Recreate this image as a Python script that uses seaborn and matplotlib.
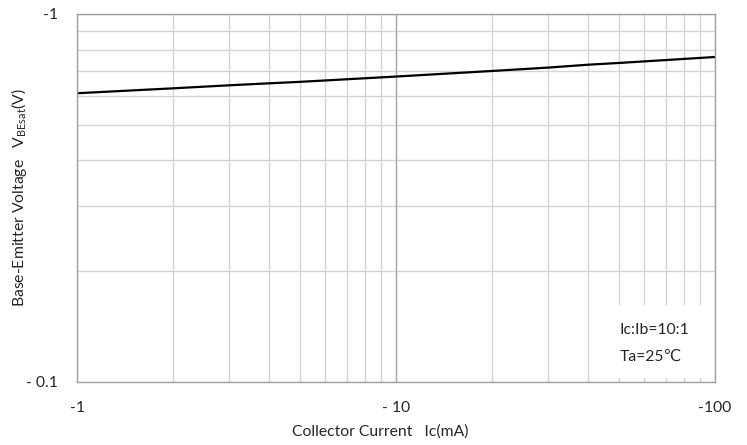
import numpy as np
import pandas as pd
import matplotlib
matplotlib.use('Agg')
import matplotlib.pyplot as plt
import seaborn as sns
from matplotlib.patches import Rectangle
from matplotlib.ticker import FixedLocator, NullFormatter

# data (Ic in mA, VBEsat in V, magnitudes)
ic_ma = [1, 2, 3, 4, 5, 10, 20, 30, 40, 50, 100]
vbe_sat = [0.609, 0.628, 0.640, 0.648, 0.654, 0.676, 0.700, 0.715, 0.728, 0.736, 0.764]

x_ticks = [1, 10, 100]
x_labels = ['-1', '- 10', '-100']
y_ticks = [0.1, 1]
y_labels = ['- 0.1', '-1']

df = pd.DataFrame({'ic': ic_ma, 'vbe': vbe_sat})

sns.set_style('white')
plt.rcParams['font.family'] = ['Lato', 'DejaVu Sans']

fig = plt.figure(figsize=(7.47, 4.45), dpi=100)
ax = fig.add_axes([0.1031, 0.1416, 0.854, 0.827])

sns.lineplot(data=df, x='ic', y='vbe', color='black', linewidth=1.6, ax=ax)

ax.set_xscale('log')
ax.set_yscale('log')
ax.set_xlim(1, 100)
ax.set_ylim(0.1, 1)

ax.xaxis.set_major_locator(FixedLocator(x_ticks))
ax.set_xticklabels(x_labels)
ax.yaxis.set_major_locator(FixedLocator(y_ticks))
ax.set_yticklabels(y_labels)
ax.xaxis.set_minor_formatter(NullFormatter())
ax.yaxis.set_minor_formatter(NullFormatter())

ax.grid(True, which='both', color='#d4d4d4', linewidth=1.0)
ax.axvline(10, color='#a8a8a8', linewidth=1.0, zorder=1)
ax.tick_params(which='both', length=0)
ax.tick_params(axis='x', pad=14, labelsize=11.3)
ax.tick_params(axis='y', pad=14, labelsize=11.3)

for s in ax.spines.values():
    s.set_color('#a0a0a0')
    s.set_linewidth(1.0)

ax.set_xlabel('Collector Current   Ic(mA)', fontsize=11.3)
ax.xaxis.set_label_coords(0.476, -0.115)
ax.set_ylabel(r'Base-Emitter Voltage   V$_{\mathregular{BEsat}}$(V)', fontsize=11.3)
ax.yaxis.set_label_coords(-0.075, 0.5)

# white note box hiding the grid behind the conditions text
ax.add_patch(Rectangle((0.82, 0.011), 0.177, 0.198, transform=ax.transAxes,
                       facecolor='white', edgecolor='none', zorder=3))
ax.text(0.85, 0.105, 'Ic:Ib=10:1\nTa=25\u2103', transform=ax.transAxes,
        fontsize=11.3, ha='left', va='center', linespacing=2.1, zorder=4)

fig.savefig('out.png', dpi=100)
